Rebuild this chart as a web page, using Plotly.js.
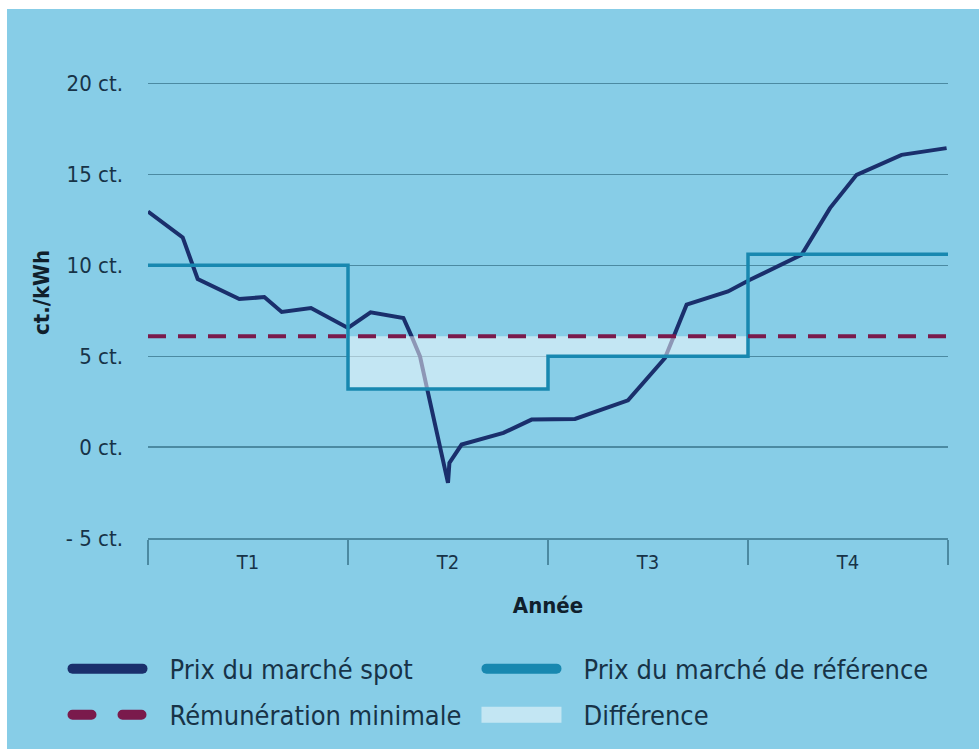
<!DOCTYPE html>
<html>
<head>
<meta charset="utf-8">
<script src="https://cdn.plot.ly/plotly-3.0.1.min.js"></script>
<style>
  html, body { margin: 0; padding: 0; background: #ffffff; }
  #chart { position: absolute; left: 7px; top: 9px; width: 972px; height: 740px; }
</style>
</head>
<body>
<div id="chart"></div>
<script>
// ---- Data ----
// x positions expressed in quarters (0 = start of T1, 4 = end of T4)
const spotX = [0, 0.1735, 0.2485, 0.4565, 0.5815, 0.6685, 0.815, 1.0, 1.113, 1.277, 1.318, 1.36, 1.393, 1.5, 1.507, 1.568, 1.777, 1.918, 2.135, 2.40, 2.585, 2.693, 2.9, 3.01, 3.268, 3.41, 3.543, 3.768, 3.993];
const spotY = [12.95, 11.53, 9.24, 8.14, 8.25, 7.43, 7.65, 6.55, 7.41, 7.10, 6.09, 4.99, 3.34, -1.97, -0.87, 0.14, 0.78, 1.51, 1.55, 2.57, 4.90, 7.83, 8.56, 9.20, 10.58, 13.14, 14.97, 16.07, 16.44];

const quarterBounds = [0, 1, 2, 3, 4];
const referenceY = [10.0, 3.2, 5.0, 10.6, 10.6];   // step values per quarter (last repeats end)
const minimumY = 6.1;                               // Rémunération minimale

const quarterLabels = ['T1', 'T2', 'T3', 'T4'];
const quarterCenters = [0.5, 1.5, 2.5, 3.5];

const yTickVals = [-5, 0, 5, 10, 15, 20];
const yTickText = ['- 5 ct.', '0 ct.', '5 ct.', '10 ct.', '15 ct.', '20 ct.'];

const seriesNames = ['Prix du marché spot', 'Prix du marché de référence', 'Rémunération minimale', 'Différence'];

// ---- Build "Différence" polygon (between minimum and reference where reference is below) ----
const diffX = [], diffY = [];
const lowQuarters = [];
for (let i = 0; i < 4; i++) if (referenceY[i] < minimumY) lowQuarters.push(i);
if (lowQuarters.length) {
  const first = lowQuarters[0], last = lowQuarters[lowQuarters.length - 1];
  diffX.push(quarterBounds[first]); diffY.push(minimumY);
  diffX.push(quarterBounds[last + 1]); diffY.push(minimumY);
  for (let k = lowQuarters.length - 1; k >= 0; k--) {
    const q = lowQuarters[k];
    diffX.push(quarterBounds[q + 1]); diffY.push(referenceY[q]);
    diffX.push(quarterBounds[q]); diffY.push(referenceY[q]);
  }
}

const FONT = "'DejaVu Sans Condensed', 'Liberation Sans Narrow', 'DejaVu Sans', sans-serif";
const TEXT = '#173347';
const PAD = '\u2002\u2009'; // gap between legend symbol and text

const traces = [
  {
    x: spotX, y: spotY, type: 'scatter', mode: 'lines', name: PAD + seriesNames[0],
    line: { color: '#1a2f6c', width: 4 }, legend: 'legend', hoverinfo: 'skip'
  },
  {
    x: diffX, y: diffY, type: 'scatter', mode: 'lines', name: PAD + seriesNames[3],
    fill: 'toself', fillcolor: 'rgba(255,255,255,0.5)', line: { width: 0, color: 'rgba(0,0,0,0)' },
    legend: 'legend4', hoverinfo: 'skip'
  },
  {
    x: quarterBounds, y: referenceY, type: 'scatter', mode: 'lines', name: PAD + seriesNames[1],
    line: { color: '#1888b0', width: 3.5, shape: 'hv' }, legend: 'legend2', hoverinfo: 'skip'
  },
  {
    x: [quarterBounds[0], quarterBounds[quarterBounds.length - 1]], y: [minimumY, minimumY],
    type: 'scatter', mode: 'lines', name: PAD + seriesNames[2],
    line: { color: '#7a1a4c', width: 4, dash: '18px,12px' }, legend: 'legend3', hoverinfo: 'skip'
  }
];

const legendCommon = {
  orientation: 'h', xref: 'container', yref: 'container',
  xanchor: 'left', yanchor: 'top',
  bgcolor: 'rgba(0,0,0,0)', borderwidth: 0,
  itemwidth: 80,
  font: { family: FONT, size: 27, color: TEXT }
};
const COL1 = 0.0571, COL2 = 0.4830, ROW1 = 0.1411, ROW2 = 0.0789;

const layout = {
  width: 972, height: 740,
  paper_bgcolor: '#87cde7', plot_bgcolor: '#87cde7',
  margin: { l: 141, r: 31, t: 38, b: 211 },
  font: { family: FONT, color: TEXT, size: 20 },
  showlegend: true,
  xaxis: {
    range: [0, 4], showgrid: false, zeroline: false,
    showline: true, linecolor: '#4b8aa2', linewidth: 1.5,
    tickmode: 'array', tickvals: quarterCenters, ticktext: quarterLabels,
    ticks: '', ticklabelstandoff: 5,
    tickfont: { family: FONT, size: 20, color: TEXT },
    minor: { tickmode: 'array', tickvals: quarterBounds, ticks: 'outside', ticklen: 25, tickwidth: 1.5, tickcolor: '#4b8aa2', showgrid: false },
    title: { text: '<b>Année</b>', font: { family: FONT, size: 22, color: '#10202c' }, standoff: 25 },
    fixedrange: true
  },
  yaxis: {
    range: [-5, 22], zeroline: false,
    showgrid: true, gridcolor: '#4b8aa2', gridwidth: 1.2,
    tickmode: 'array', tickvals: yTickVals, ticktext: yTickText,
    ticks: '', ticklabelstandoff: 24,
    tickfont: { family: FONT, size: 22, color: TEXT },
    title: { text: '<b>ct./kWh</b>', font: { family: FONT, size: 22, color: '#10202c' }, standoff: 10 },
    fixedrange: true
  },
  legend:  Object.assign({}, legendCommon, { x: COL1, y: ROW1 }),
  legend2: Object.assign({}, legendCommon, { x: COL2, y: ROW1 }),
  legend3: Object.assign({}, legendCommon, { x: COL1, y: ROW2 }),
  legend4: Object.assign({}, legendCommon, { x: COL2, y: ROW2 })
};

// Style tweak for legend symbols: thick rounded line keys and a taller fill swatch
function styleLegendKeys() {
  const root = document.getElementById('chart');
  root.querySelectorAll('.legendlines path').forEach(p => {
    const d = p.getAttribute('d') || '';
    const m = d.match(/M\s*([-\d.]+)\s*,\s*([-\d.]+)\s*h\s*([-\d.]+)/);
    if (m) {
      const x0 = parseFloat(m[1]), y0 = parseFloat(m[2]), w = parseFloat(m[3]);
      p.setAttribute('d', 'M' + (x0 + 5) + ',' + y0 + 'h' + (w - 10));
    }
    const dashed = (p.style.strokeDasharray || '').trim() !== '' && p.style.strokeDasharray !== 'none';
    p.style.strokeWidth = '10px';
    p.style.strokeLinecap = 'round';
    if (dashed) p.style.strokeDasharray = '19px,31px';
  });
  root.querySelectorAll('.legendfill path').forEach(p => {
    const d = p.getAttribute('d') || '';
    const m = d.match(/M\s*([-\d.]+)\s*,\s*([-\d.]+)\s*h\s*([-\d.]+)/);
    if (m) {
      const x0 = parseFloat(m[1]), w = parseFloat(m[3]);
      p.setAttribute('d', 'M' + x0 + ',-8h' + w + 'v16h' + (-w) + 'z');
    }
  });
}

Plotly.newPlot('chart', traces, layout, { displayModeBar: false, staticPlot: true }).then(styleLegendKeys);
</script>
</body>
</html>
